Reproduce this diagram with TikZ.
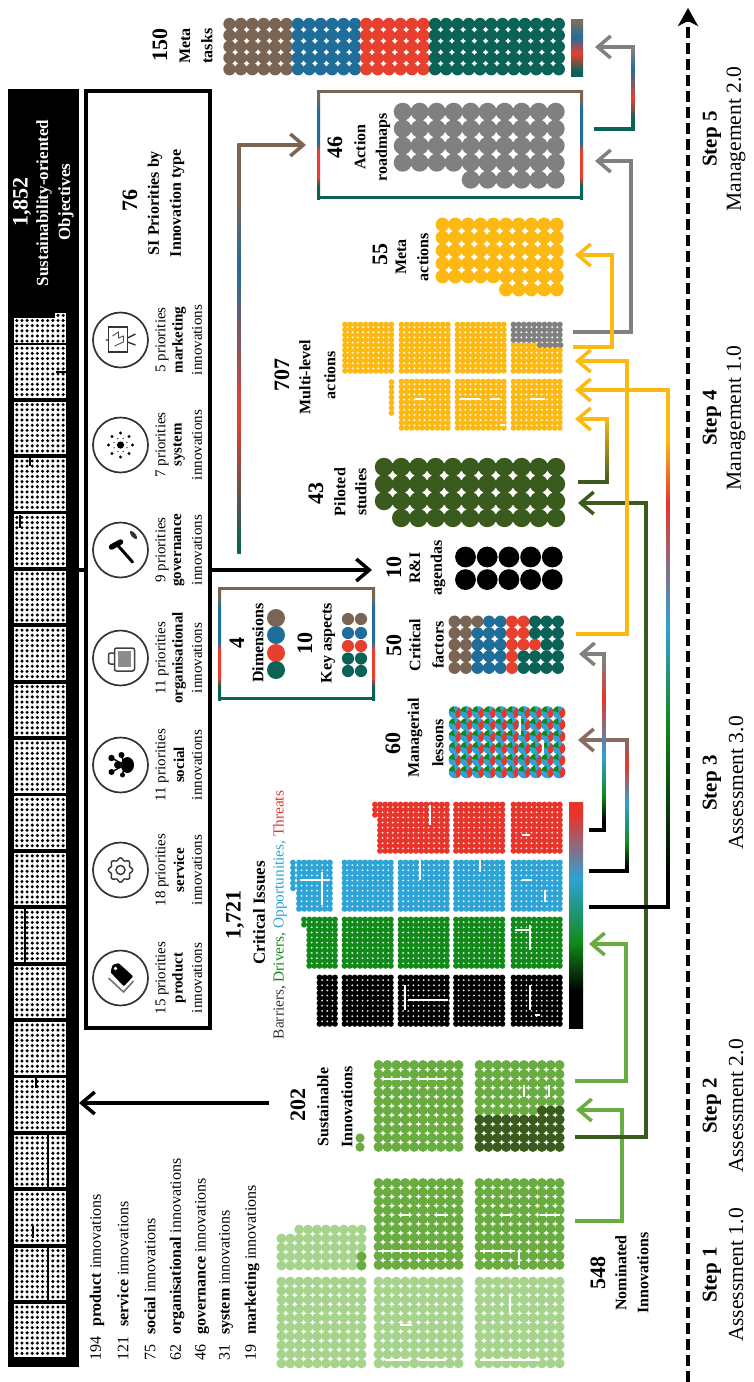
\documentclass[tikz,border=0pt]{standalone}
\usepackage{fontspec}
\setmainfont{Liberation Serif}
\usetikzlibrary{arrows.meta,calc}

\definecolor{mbrown}{HTML}{7A6554}
\definecolor{mblue}{HTML}{1F6E9A}
\definecolor{mred}{HTML}{E8402E}
\definecolor{mteal}{HTML}{0B6358}
\definecolor{myellow}{HTML}{FDB913}
\definecolor{mgrey}{HTML}{808080}
\definecolor{lgreen}{HTML}{A7D48C}
\definecolor{sgreen}{HTML}{69AC3F}
\definecolor{dgreen}{HTML}{3B5B1E}
\definecolor{igreen}{HTML}{128A1A}
\definecolor{iblue}{HTML}{2DA3D6}
\definecolor{ired}{HTML}{E8352B}

\pgfdeclareverticalshading{framegrad}{100bp}{color(0bp)=(mteal); color(31bp)=(mteal); color(35bp)=(mred); color(47bp)=(mred); color(51bp)=(mblue); color(66bp)=(mblue); color(71bp)=(mbrown); color(100bp)=(mbrown)}
\pgfdeclareverticalshading{metagrad}{100bp}{color(0bp)=(mteal); color(29bp)=(mteal); color(45bp)=(mred); color(59bp)=(mblue); color(73bp)=(mbrown!70!gray); color(100bp)=(mbrown!70!gray)}
\pgfdeclareverticalshading{roadgrad}{100bp}{color(0bp)=(mteal); color(26bp)=(mteal); color(41.7bp)=(mred); color(60bp)=(mblue); color(68bp)=(mbrown); color(100bp)=(mbrown)}
\pgfdeclareverticalshading{outgrad}{100bp}{color(0bp)=(mteal); color(32bp)=(mteal); color(44bp)=(mred); color(61bp)=(mblue); color(72bp)=(mgrey); color(100bp)=(mgrey)}
\pgfdeclareverticalshading{issuegrad}{100bp}{color(0bp)=(black); color(33bp)=(black); color(44bp)=(igreen); color(58bp)=(iblue); color(72bp)=(ired); color(100bp)=(ired)}
\pgfdeclareverticalshading{yellowgrad}{100bp}{color(0bp)=(black); color(28bp)=(black); color(43bp)=(igreen); color(52bp)=(iblue); color(64bp)=(ired); color(70bp)=(myellow); color(100bp)=(myellow)}
\pgfdeclareverticalshading{lessongrad}{100bp}{color(0bp)=(black); color(27bp)=(black); color(36bp)=(igreen); color(51bp)=(iblue); color(65bp)=(ired); color(74bp)=(mbrown!70!gray); color(100bp)=(mbrown!70!gray)}
\pgfdeclareverticalshading{factorgrad}{100bp}{color(0bp)=(black); color(28bp)=(black); color(35bp)=(igreen); color(46bp)=(iblue); color(62bp)=(ired); color(73bp)=(mgrey); color(100bp)=(mgrey)}

\tikzset{
  numlbl/.style={rotate=90, inner sep=0pt, font=\bfseries\fontsize{22}{22}\selectfont},
  sublbl/.style={rotate=90, inner sep=0pt, font=\bfseries\fontsize{16}{16}\selectfont},
  prilbl/.style={rotate=90, inner sep=0pt, font=\fontsize{15}{15}\selectfont},
  steplbl/.style={rotate=90, inner sep=0pt, font=\bfseries\fontsize{21}{21}\selectfont},
  stagelbl/.style={rotate=90, inner sep=0pt, font=\fontsize{21.5}{21.5}\selectfont},
  link/.style={line width=3.5pt},
  barb/.style={-{Straight Barb[length=13pt,width=22pt,line width=3.5pt]}},
  iconring/.style={line width=1.7pt, draw=black!80},
  gapline/.style={white, line width=1.1pt},
}

% dots: colour, first x, first y, columns, rows, dx, dy, radius
\newcommand{\dotgrid}[8]{%
  \fill[#1] \foreach \cc in {1,...,#4} {\foreach \rr in {1,...,#5} {
    ({#2+(\cc-1)*#6},{#3+(\rr-1)*#7}) circle (#8)}};
}
% three sided link: start, x offset, end, shading, start colour, end colour
\newcommand{\gradarrow}[6]{%
  \path (#1) ++(#2,0) coordinate (bendA);
  \path (#3 -| bendA) coordinate (bendB);
  \shade[shading=#4] ($(bendA)+(-1.75,1.75)$) rectangle ($(bendB)+(1.75,-1.75)$);
  \draw[link,#5] (#1) -- (bendA);
  \draw[link,barb,#6] (bendB) -- (#3);
}
% colour frame: x1, y1, x2, y2
\newcommand{\gradframe}[4]{%
  \shade[shading=framegrad] (#1,#2) rectangle ({#1+3},#4);
  \shade[shading=framegrad] ({#3-3},#2) rectangle (#3,#4);
  \fill[mbrown] (#1,#2) rectangle (#3,{#2+3});
  \fill[mteal] (#1,{#4-3}) rectangle (#3,#4);
}

\begin{document}
\begin{tikzpicture}[x=1pt, y=-1pt]
\useasboundingbox (0,0) rectangle (753,1382);

%--- Objectives bar ---
\node[fill=black, inner sep=0pt, minimum width=71pt, minimum height=1278pt] (objBar) at (43.5,728) {};
\foreach \k in {0,...,17} {
  \pgfmathsetmacro{\yy}{1304-56.4*\k}
  \fill[white] (14,\yy) rectangle (66,{\yy+52.5});
  \dotgrid{black}{16.8}{\yy+3}{10}{10}{5.15}{5.15}{1.7}
}
\fill[white] (14,318) rectangle (66,343);
\fill[white] (55,313) rectangle (66,318);
\dotgrid{black}{16.8}{320.5}{10}{5}{5.15}{5.15}{1.7}
\dotgrid{black}{58}{315.4}{2}{1}{5.15}{5.15}{1.7}
% stray lines
\draw[line width=1.2pt] (25,908) -- (25,962) (14,963) -- (66,963);
\draw[line width=1.2pt] (48,1135) -- (48,1187) (57,1133) -- (14,1133) (36,1078) -- (36,1088);
\draw[line width=1.2pt] (48,1248) -- (48,1300) (33,1238) -- (33,1226);
\draw[line width=1.2pt] (56,372) -- (66,372) (30,458) -- (30,466) (20,515) -- (20,528);
\node[numlbl, white] (objNum) at (22,202) {1,852};
\node[sublbl, white, font=\bfseries\fontsize{17}{17}\selectfont] (objTitleA) at (44,203) {Sustainability-oriented};
\node[sublbl, white, font=\bfseries\fontsize{17}{17}\selectfont] (objTitleB) at (66,202) {Objectives};

%--- SI priorities box ---
\node[draw, line width=4pt, inner sep=0pt, minimum width=124pt, minimum height=937pt] (siBox) at (147.5,559.5) {};
\node[numlbl] (siNum) at (130,200) {76};
\node[sublbl] (siTitleA) at (155,203) {SI Priorities by};
\node[sublbl] (siTitleB) at (177,203) {Innovation type};
\foreach \yy/\cnt/\ty in {978/15/product,870/18/service,765/11/social,658/11/organisational,550/9/governance,445/7/system,340/5/marketing} {
  \draw[iconring] (120.5,\yy) circle (27.5);
  \node[prilbl] (pri\ty) at (162,\yy) {\cnt\ priorities};
  \node[prilbl, font=\bfseries\fontsize{15}{15}\selectfont] (type\ty) at (179,\yy) {\ty};
  \node[prilbl] (inno\ty) at (197,\yy) {innovations};
}
% product
\begin{scope}[shift={(120.5,978)}]
  \draw[line width=1.6pt, black!55] (-12,0) -- (3,14) -- (13,3);
  \fill[black, rounded corners=1pt] (-8,-13) -- (-2,-15) -- (12.7,-1.7) -- (3.3,8.3) -- (-10,-5.7) -- cycle;
  \fill[white] (-5,-9.5) circle (1.8);
\end{scope}
% service
\begin{scope}[shift={(120.5,870)}]
  \draw[line width=1.4pt, black!80, domain=0:360, samples=97, smooth] plot ({(11+1.2*cos(8*\x))*cos(\x)}, {(11+1.2*cos(8*\x))*sin(\x)}) -- cycle;
  \draw[line width=1.4pt, black!80] (0,0) circle (4.5);
\end{scope}
% social
\begin{scope}[shift={(120.5,765)}]
  \fill (7,0) ellipse (6.5 and 8);
  \fill (-9,-7) circle (3.2) (-9,7) circle (3) (1,-10) circle (3) (2,10) circle (2.5) (-3,0) circle (3.5);
  \draw[line width=1.5pt] (-9,-7) -- (4,0) -- (-9,7) (1,-10) -- (4,0) -- (2,10);
\end{scope}
% organisational
\begin{scope}[shift={(120.5,658)}]
  \draw[line width=1.5pt, black!75, rounded corners=2pt] (-6,-10) rectangle (14,13);
  \fill[black!45] (-3,-7) rectangle (10,9);
  \draw[line width=1.5pt, black!75, rounded corners=2pt] (-6,-5) -- (-12,-5) -- (-12,6) -- (-6,6);
\end{scope}
% governance
\begin{scope}[shift={(120.5,550)}]
  \draw[line width=5.5pt, line cap=round] (-9,-3) -- (0,-8);
  \draw[line width=3pt, line cap=round] (-3,-5) -- (12,12);
  \fill[black!80, rotate around={-50:(13,-15)}] (13,-15) ellipse (5 and 2.2);
\end{scope}
% system
\begin{scope}[shift={(120.5,445)}]
  \fill (0,0) circle (3.6);
  \foreach \a in {0,45,...,315} {\fill (\a:12) circle (1.7);}
  \foreach \a in {22,67,...,337} {\fill[black!70] (\a:7) circle (0.8);}
\end{scope}
% marketing
\begin{scope}[shift={(120.5,340)}]
  \draw[line width=1.5pt, black!80] (-12,-13) rectangle (7,12);
  \draw[line width=0.9pt, black!70] (-8,-4) -- (-2,-8) -- (-2,-2) -- (3,-4) -- (3,2) -- (-6,6);
  \draw[line width=1.4pt, black!80] (-15,0) -- (-12,0) (7,-2) -- (15,-6) (7,2) -- (15,5);
\end{scope}

%--- Innovation counts ---
\foreach \xx/\cnt/\ty in {97/194/product,123/121/service,150/75/social,177/62/organisational,202/46/governance,226/31/system,252/19/marketing} {
  \node[rotate=90, anchor=west, inner sep=0pt, font=\fontsize{16}{16}\selectfont] (cnt\ty) at (\xx,1361) {\cnt\hspace{10pt}\textbf{\ty} innovations};
}

%--- Dimensions box ---
\gradframe{218}{587}{375}{700}
\node[numlbl] (dimNum) at (237,643) {4};
\node[sublbl] (dimText) at (258,643) {Dimensions};
\node[numlbl] (keyNum) at (305,643) {10};
\node[sublbl] (keyText) at (328,643) {Key aspects};
\fill[mbrown] (276,618) circle (9);
\fill[mblue] (276,635) circle (9);
\fill[mred] (276,653) circle (9);
\fill[mteal] (276,670) circle (9);
\dotgrid{mbrown}{348}{619}{2}{1}{13}{13}{6.1}
\dotgrid{mblue}{348}{633}{2}{1}{13}{13}{6.1}
\dotgrid{mred}{348}{646}{2}{1}{13}{13}{6.1}
\dotgrid{mteal}{348}{658.5}{2}{2}{13}{12.5}{6.1}

%--- Nominated and sustainable innovations ---
\foreach \xx in {281.4,378.5,479.5} {\dotgrid{lgreen}{\xx}{1281.5}{10}{10}{8.9}{9.1}{4.95}}
\dotgrid{lgreen}{281.4}{1238.5}{10}{4}{8.9}{9}{4.95}
\dotgrid{lgreen}{299.2}{1229.5}{8}{1}{8.9}{9}{4.95}
\dotgrid{sgreen}{361.5}{1256.5}{1}{2}{8.9}{9}{4.95}
\foreach \xx in {378.5,479.5} {
  \dotgrid{sgreen}{\xx}{1183}{10}{10}{8.9}{9.1}{4.95}
  \dotgrid{sgreen}{\xx}{1065}{10}{10}{8.9}{9.1}{4.95}
}
\dotgrid{dgreen}{479.5}{1119.6}{10}{4}{8.9}{9.1}{4.95}
\dotgrid{dgreen}{541.8}{1110.5}{3}{1}{8.9}{9.1}{4.95}
\dotgrid{sgreen}{360}{1138}{1}{2}{8.9}{9.1}{4.6}
% gaps left inside the blocks
\draw[gapline] (383,1079) -- (410,1079) (420,1079) -- (445,1079) (524,1085) -- (524,1097) (549,1085) -- (549,1097);
\draw[gapline] (400,1215) -- (410,1215) (437,1215) -- (448,1215) (378,1251) -- (445,1251) (480,1251) -- (515,1251) (519,1250) -- (519,1265) (500,1215) -- (512,1215) (540,1215) -- (560,1215);
\draw[gapline] (510,1295) -- (510,1312) (400,1325) -- (412,1325) (385,1360) -- (410,1360) (420,1360) -- (445,1360) (480,1360) -- (540,1360);
\node[numlbl] (susNum) at (298,1105) {202};
\node[sublbl] (susA) at (323,1107) {Sustainable};
\node[sublbl] (susB) at (347,1107) {Innovations};
\node[numlbl] (nomNum) at (598,1273) {548};
\node[sublbl] (nomA) at (621,1273) {Nominated};
\node[sublbl] (nomB) at (643,1273) {Innovations};

%--- Critical issues ---
\foreach \yy/\col in {977.5/black,919.5/igreen,862.5/iblue} {
  \foreach \xx in {344.5,400.5,456,513.5} {\dotgrid{\col}{\xx}{\yy}{10}{10}{5.15}{5.15}{2.95}}
}
\foreach \xx in {400.5,456,513.5} {\dotgrid{ired}{\xx}{804.5}{10}{10}{5.15}{5.15}{2.95}}
\dotgrid{black}{319.5}{977.5}{4}{10}{5.15}{5.15}{2.95}
\dotgrid{igreen}{309.2}{919.5}{6}{10}{5.15}{5.15}{2.95}
\dotgrid{igreen}{304}{919.5}{1}{2}{5.15}{5.15}{2.95}
\dotgrid{iblue}{299}{862.5}{7}{10}{5.15}{5.15}{2.95}
\dotgrid{iblue}{293}{862.5}{1}{6}{5.15}{5.15}{2.95}
\dotgrid{ired}{380}{804.5}{4}{10}{5.15}{5.15}{2.95}
\dotgrid{ired}{375}{804.5}{1}{3}{5.15}{5.15}{2.95}
% gaps left inside the blocks
\draw[gapline] (408,1000) -- (448,1000) (405,985) -- (405,1010) (530,985) -- (530,1010) (430,805) -- (430,825) (535,1015) -- (540,1015);
\draw[gapline] (522,880) -- (532,880) (545,890) -- (545,902) (530,925) -- (530,950) (515,930) -- (530,930);
\draw[gapline] (522,835) -- (530,835) (300,880) -- (330,880) (322,872) -- (322,905) (420,860) -- (420,880) (480,860) -- (480,872);
\node[numlbl] (issNum) at (235,915) {1,721};
\node[sublbl, font=\bfseries\fontsize{17}{17}\selectfont] (issTitle) at (259,913) {Critical Issues};
\node[rotate=90, inner sep=0pt, font=\fontsize{15.3}{15.3}\selectfont] (issKinds) at (280,915) {\textcolor{black!80}{Barriers,} \textcolor{igreen}{Drivers,} \textcolor{iblue}{Opportunities,} \textcolor{ired}{Threats}};
\shade[shading=issuegrad] (569,802) rectangle (583,1028);

%--- Lessons, factors, agendas ---
\foreach \cc in {0,...,9} {\foreach \rr in {0,...,5} {
  \begin{scope}[shift={({455+\cc*11.55},{712.5+\rr*11.9})}]
    \clip (0,0) circle (6.3);
    \fill[iblue] (-7,-7) rectangle (7,7);
    \fill[ired] (0,0) -- (-50:14) -- (70:14) -- cycle;
    \fill[igreen] (0,0) -- (-165:14) -- (-100:14) -- cycle;
  \end{scope}
}}
\draw[gapline] (520,716) -- (520,735) (543,740) -- (543,755);
\node[numlbl] (lesNum) at (393,743) {60};
\node[sublbl] (lesA) at (415,738) {Managerial};
\node[sublbl] (lesB) at (438,743) {lessons};

\dotgrid{mbrown}{454.5}{621.5}{2}{5}{11.5}{11.6}{6}
\dotgrid{mbrown}{477.5}{621.5}{1}{1}{11.5}{11.6}{6}
\dotgrid{mblue}{477.5}{633.1}{3}{4}{11.5}{11.6}{6}
\dotgrid{mblue}{489}{621.5}{2}{1}{11.5}{11.6}{6}
\dotgrid{mred}{512}{621.5}{1}{5}{11.5}{11.6}{6}
\dotgrid{mred}{523.5}{621.5}{1}{3}{11.5}{11.6}{6}
\dotgrid{mred}{535}{644.7}{1}{1}{11.5}{11.6}{6}
\dotgrid{mteal}{535}{621.5}{3}{2}{11.5}{11.6}{6}
\dotgrid{mteal}{546.5}{644.7}{2}{1}{11.5}{11.6}{6}
\dotgrid{mteal}{523.5}{656.3}{4}{2}{11.5}{11.6}{6}
\node[numlbl] (facNum) at (394,645) {50};
\node[sublbl] (facA) at (415,645) {Critical};
\node[sublbl] (facB) at (438,645) {factors};

\dotgrid{black}{465.5}{557}{5}{2}{21.7}{22.6}{10.4}
\node[numlbl] (ragNum) at (394,567) {10};
\node[sublbl] (ragA) at (415,568) {R\&I};
\node[sublbl] (ragB) at (438,568) {agendas};

%--- Piloted studies ---
\dotgrid{dgreen}{384}{467}{11}{3}{17.2}{17}{9.2}
\dotgrid{dgreen}{401.2}{518}{10}{1}{17.2}{17}{9.2}
\node[numlbl] (pilNum) at (316,493) {43};
\node[sublbl] (pilA) at (340,492) {Piloted};
\node[sublbl] (pilB) at (361,492) {studies};

%--- Multi-level actions ---
\foreach \xx/\yy in {345/324.5,401.5/324.5,457.5/324.5,401.5/381.5,457.5/381.5,513.5/381.5} {
  \dotgrid{myellow}{\xx}{\yy}{10}{10}{5.15}{5.15}{2.9}
}
\dotgrid{myellow}{513.5}{345.1}{10}{6}{5.15}{5.15}{2.9}
\dotgrid{mgrey}{513.5}{324.5}{10}{4}{5.15}{5.15}{2.9}
\dotgrid{mgrey}{540}{345.1}{5}{1}{5.15}{5.15}{2.9}
\dotgrid{myellow}{391.5}{382}{1}{7}{5.15}{5.15}{2.9}
\draw[gapline] (415,399) -- (425,399) (460,399) -- (480,399) (490,399) -- (500,399) (530,399) -- (545,399) (500,425) -- (505,425);
\node[numlbl] (mulNum) at (282,375) {707};
\node[sublbl] (mulA) at (305,377) {Multi-level};
\node[sublbl] (mulB) at (330,375) {actions};

%--- Meta actions ---
\dotgrid{myellow}{442.5}{224.5}{10}{5}{12.7}{13}{6.9}
\dotgrid{myellow}{506}{289.5}{5}{1}{12.7}{13}{6.9}
\node[numlbl] (mactNum) at (380,254) {55};
\node[sublbl] (mactA) at (401,257) {Meta};
\node[sublbl] (mactB) at (423,257) {actions};

%--- Action roadmaps ---
\gradframe{317}{90}{583}{199}
\dotgrid{mgrey}{402.7}{111.7}{4}{4}{17}{17}{9}
\dotgrid{mgrey}{470.7}{111.7}{6}{5}{17}{17}{9}
\node[numlbl] (roaNum) at (335,147) {46};
\node[sublbl] (roaA) at (360,147) {Action};
\node[sublbl] (roaB) at (383,147) {roadmaps};

%--- Meta tasks ---
\dotgrid{mbrown}{229.5}{24}{6}{5}{11.4}{11.3}{6.2}
\dotgrid{mblue}{297.9}{24}{6}{5}{11.4}{11.3}{6.2}
\dotgrid{mred}{366.3}{24}{6}{5}{11.4}{11.3}{6.2}
\dotgrid{mteal}{435}{24}{12}{5}{11.25}{11.3}{6.2}
\shade[shading=metagrad] (571,19) rectangle (583,76);
\node[numlbl] (tskNum) at (160,45) {150};
\node[sublbl] (tskA) at (185,46) {Meta};
\node[sublbl] (tskB) at (207,46) {tasks};

%--- Links ---
\coordinate (susOut) at (269,1103);
\coordinate (barIn) at (79,1103);
\draw[link,barb] (susOut) -- (barIn);
\coordinate (barOut) at (78,570);
\coordinate (boxIn) at (84,570);
\draw[line width=3.5pt] (barOut) -- (boxIn);
\coordinate (boxOut) at (211,570);
\coordinate (ragIn) at (372,570);
\draw[link,barb] (boxOut) -- (ragIn);

\coordinate (nomOut) at (575,1221);
\coordinate (susIn) at (576,1110);
\draw[link,barb,sgreen] (nomOut) -- ++(47,0) |- (susIn);
\coordinate (susOutB) at (575,1081);
\coordinate (issIn) at (589,944);
\draw[link,barb,sgreen] (susOutB) -- ++(51,0) |- (issIn);
\coordinate (darkOut) at (575,1137);
\coordinate (pilIn) at (578,503);
\draw[link,barb,dgreen] (darkOut) -- ++(71,0) |- (pilIn);
\coordinate (facOut) at (576,634);
\coordinate (mulInB) at (575,361);
\draw[link,barb,myellow] (facOut) -- ++(51,0) |- (mulInB);
\coordinate (issOutA) at (589,907);
\coordinate (mulInC) at (575,390);
\gradarrow{issOutA}{79}{mulInC}{yellowgrad}{black}{myellow}
\coordinate (issOutB) at (589,871);
\coordinate (lesIn) at (578,740);
\gradarrow{issOutB}{38}{lesIn}{lessongrad}{black}{mbrown!80!mred!60!gray}
\coordinate (issOutC) at (589,830);
\coordinate (facIn) at (579,654);
\gradarrow{issOutC}{15}{facIn}{factorgrad}{black}{mgrey}
\coordinate (pilOut) at (578,482);
\coordinate (mulInA) at (575,419);
\shade[top color=myellow, bottom color=dgreen, middle color=myellow!50!dgreen] (605.25,417.25) rectangle (608.75,483.75);
\draw[link,dgreen] (pilOut) -- (607,482);
\draw[link,barb,myellow] (607,419) -- (mulInA);
\coordinate (mulOutA) at (573,332);
\coordinate (roaIn) at (595,161);
\draw[link,barb,mgrey] (mulOutA) -- ++(58,0) |- (roaIn);
\coordinate (mulOutB) at (573,347);
\coordinate (mactIn) at (575,255);
\draw[link,barb,myellow] (mulOutB) -- ++(39,0) |- (mactIn);
\coordinate (roaOut) at (594,129);
\coordinate (tskIn) at (595,47);
\gradarrow{roaOut}{39}{tskIn}{outgrad}{mteal}{mgrey}
\coordinate (siOut) at (237.25,553);
\coordinate (roaEntry) at (306,145);
\shade[shading=roadgrad] (237.25,143.25) rectangle (240.75,553);
\draw[link,barb,mbrown] (239,145) -- (roaEntry);

%--- Steps ---
\coordinate (axisStart) at (688,1382);
\coordinate (axisEnd) at (688,8);
\draw[line width=3.5pt, dash pattern=on 11pt off 5pt, -{Stealth[length=18pt,width=20pt,inset=5pt]}] (axisStart) -- (axisEnd);
\foreach \yy/\nn/\tt in {1275/1/{Assessment 1.0},1106/2/{Assessment 2.0},783/3/{Assessment 3.0},418/4/{Management 1.0},139/5/{Management 2.0}} {
  \node[steplbl] (step\nn) at (712,\yy) {Step \nn};
  \node[stagelbl] (stage\nn) at (736,\yy) {\tt};
}
\end{tikzpicture}
\end{document}
